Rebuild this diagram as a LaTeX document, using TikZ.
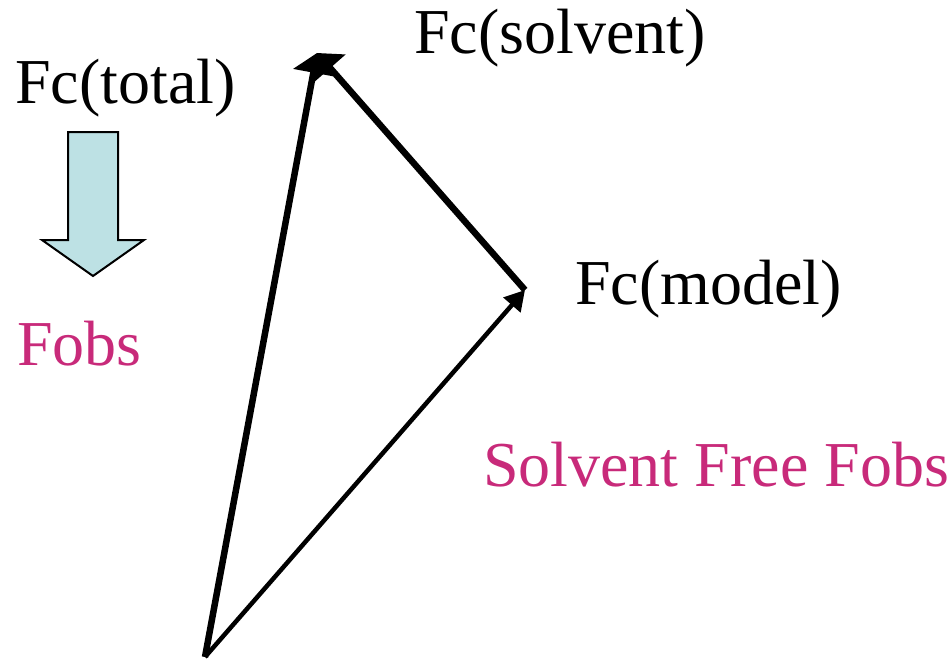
\documentclass[tikz,border=0pt]{standalone}
\usepackage{fontspec}
\setmainfont{Liberation Serif}
\usetikzlibrary{arrows.meta}
\definecolor{pinkish}{RGB}{200,42,122}
\definecolor{blockfill}{RGB}{189,225,228}
\tikzset{
  lbl/.style={anchor=base west, inner sep=0pt, font=\fontsize{64}{76}\selectfont},
  vecthick/.style={line width=6.5pt, -{Triangle[length=20pt,width=40pt]}},
  vecthin/.style={line width=4.5pt, -{Triangle[length=20pt,width=22pt]}},
}
\begin{document}
\begin{tikzpicture}[x=1pt,y=-1pt]
\useasboundingbox (0,0) rectangle (951,661);
\coordinate (O) at (205,657);
\coordinate (T) at (317,53);
\coordinate (M) at (525,290);
\draw[vecthin] (O) -- (M);
\draw[vecthick] (O) -- (T);
\draw[vecthick] (M) -- (T);
\node[lbl] (ftotal) at (15,103) {Fc(total)};
\node[lbl] (fsolv) at (414,54) {Fc(solvent)};
\node[lbl] (fmodel) at (575,304) {Fc(model)};
\node[lbl, text=pinkish] (fobs) at (17,365) {Fobs};
\node[lbl, text=pinkish] (sff) at (483,486) {Solvent Free Fobs};
\draw[line width=2pt, fill=blockfill, line join=miter]
  (68,132) -- (118,132) -- (118,240) -- (144,240) -- (93,276) -- (42,240) -- (68,240) -- cycle;
\end{tikzpicture}
\end{document}
